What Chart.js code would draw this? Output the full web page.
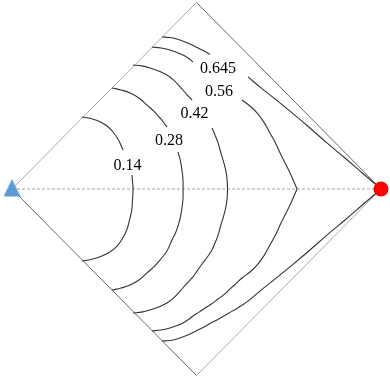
<!DOCTYPE html>
<html><head><meta charset="utf-8">
<script src="https://cdn.jsdelivr.net/npm/chart.js@4.4.1/dist/chart.umd.min.js"></script>
<style>html,body{margin:0;padding:0;background:#fff}#wrap{width:390px;height:379px;position:relative}</style>
</head><body><div id="wrap"><canvas id="c"></canvas></div>
<script>
// Diamond frame vertices (left, top, right, bottom, left)
const frameX = [-1, 0, 1, 0, -1];
const frameY = [0, 1, 0, -1, 0];
// Endpoint markers
const startPoint = [-1, 0];
const endPoint = [1, 0];

// Contour levels and label anchors
const contourLevels = ['0.14', '0.28', '0.42', '0.56', '0.645'];
const labelX = [-0.374, -0.149, -0.011, 0.122, 0.117];
const labelY = [0.131, 0.268, 0.410, 0.528, 0.649];

// Contour segments, [x, y] (split where the labels sit and at sharp corners)
const c014a = [[-0.621,0.386],[-0.572,0.378],[-0.523,0.361],[-0.485,0.338],[-0.453,0.307],[-0.423,0.263],[-0.398,0.209]];
const c014b = [[-0.350,0.075],[-0.344,0],[-0.347,-0.059],[-0.351,-0.113],[-0.363,-0.166],[-0.378,-0.220],[-0.401,-0.265],[-0.433,-0.309],[-0.474,-0.340],[-0.523,-0.363],[-0.572,-0.378],[-0.621,-0.386]];

const c028a = [[-0.458,0.542],[-0.409,0.531],[-0.360,0.515],[-0.312,0.488],[-0.268,0.450],[-0.230,0.416],[-0.198,0.381],[-0.176,0.354],[-0.160,0.332]];
const c028b = [[-0.100,0.198],[-0.087,0.150],[-0.079,0.102],[-0.073,0.048],[-0.073,0],[-0.073,-0.048],[-0.079,-0.102],[-0.087,-0.150],[-0.100,-0.198],[-0.114,-0.236],[-0.133,-0.273],[-0.160,-0.332],[-0.198,-0.381],[-0.230,-0.416],[-0.268,-0.450],[-0.312,-0.488],[-0.360,-0.515],[-0.409,-0.531],[-0.458,-0.542]];

const c042a = [[-0.344,0.665],[-0.298,0.660],[-0.252,0.649],[-0.206,0.633],[-0.160,0.611],[-0.122,0.582],[-0.089,0.547],[-0.057,0.512],[-0.024,0.477]];
const c042b = [[0.084,0.327],[0.100,0.290],[0.117,0.247],[0.130,0.201],[0.144,0.155],[0.157,0.107],[0.165,0.059],[0.168,0],[0.165,-0.059],[0.157,-0.107],[0.144,-0.155],[0.130,-0.201],[0.117,-0.247],[0.100,-0.290],[0.084,-0.327],[0.057,-0.367],[0.030,-0.402],[0.003,-0.440],[-0.024,-0.477],[-0.057,-0.512],[-0.089,-0.547],[-0.122,-0.582],[-0.160,-0.611],[-0.206,-0.633],[-0.252,-0.649],[-0.298,-0.660],[-0.344,-0.665]];

const c056a = [[-0.241,0.761],[-0.192,0.756],[-0.144,0.745],[-0.106,0.732],[-0.073,0.718],[-0.043,0.700],[-0.019,0.681]];
const c056b = [[0.247,0.477],[0.290,0.445],[0.328,0.408],[0.366,0.357],[0.398,0.300],[0.428,0.247],[0.453,0.193],[0.480,0.139],[0.507,0.086],[0.526,0.043],[0.545,0]];
const c056c = [[0.545,0],[0.526,-0.043],[0.507,-0.086],[0.480,-0.139],[0.453,-0.193],[0.428,-0.247],[0.398,-0.300],[0.366,-0.357],[0.328,-0.408],[0.290,-0.445],[0.247,-0.477],[0.214,-0.507],[0.182,-0.536],[0.149,-0.566],[0.117,-0.590],[0.081,-0.617],[0.046,-0.638],[0.014,-0.660],[-0.019,-0.681],[-0.043,-0.700],[-0.073,-0.718],[-0.106,-0.732],[-0.144,-0.745],[-0.192,-0.756],[-0.241,-0.761]];

const c0645a = [[-0.187,0.815],[-0.144,0.812],[-0.106,0.804],[-0.068,0.791],[-0.035,0.777],[-0.008,0.764],[0.019,0.751],[0.046,0.737],[0.073,0.721]];
const c0645b = [[0.279,0.601],[0.350,0.542],[0.425,0.483],[0.518,0.408],[0.615,0.327],[0.707,0.247],[0.805,0.166],[0.902,0.083],[1,0]];
const c0645c = [[1,0],[0.902,-0.083],[0.805,-0.166],[0.707,-0.247],[0.615,-0.327],[0.518,-0.408],[0.425,-0.483],[0.350,-0.542],[0.279,-0.601],[0.228,-0.635],[0.176,-0.665],[0.125,-0.694],[0.073,-0.721],[0.046,-0.737],[0.019,-0.751],[-0.008,-0.764],[-0.035,-0.777],[-0.068,-0.791],[-0.106,-0.804],[-0.144,-0.812],[-0.187,-0.815]];

const contourSegments = [c014a, c014b, c028a, c028b, c042a, c042b, c056a, c056b, c056c, c0645a, c0645b, c0645c];

function triangleCanvas(color){
  const cv = document.createElement('canvas');
  cv.width = 17; cv.height = 20;
  const g = cv.getContext('2d');
  g.fillStyle = color;
  g.beginPath(); g.moveTo(8.5, 0); g.lineTo(17, 17.5); g.lineTo(0, 17.5); g.closePath(); g.fill();
  return cv;
}

const toPts = seg => seg.map(([x, y]) => ({x, y}));
const datasets = [];
// markers first (drawn on top)
datasets.push({data: [{x: startPoint[0], y: startPoint[1]}], pointStyle: triangleCanvas('#5B9BD5'), pointRadius: 9, showLine: false});
datasets.push({data: [{x: endPoint[0], y: endPoint[1]}], pointStyle: 'circle', pointRadius: 7.5, backgroundColor: '#ff0000', borderColor: '#ff0000', borderWidth: 0, showLine: false});
contourSegments.forEach(seg => datasets.push({data: toPts(seg), showLine: true, borderColor: '#333333', borderWidth: 1.1, pointRadius: 0, tension: 0.4, fill: false}));
// dotted centre line
datasets.push({data: [{x: startPoint[0], y: 0}, {x: endPoint[0], y: 0}], showLine: true, borderColor: '#a0a0a0', borderWidth: 1, borderDash: [3, 2], pointRadius: 0});
// frame edges
for (let i = 0; i < frameX.length - 1; i++) {
  datasets.push({data: [{x: frameX[i], y: frameY[i]}, {x: frameX[i+1], y: frameY[i+1]}], showLine: true,
    borderColor: i % 2 === 0 ? '#aaaaaa' : '#666666', borderWidth: 1, pointRadius: 0});
}

const labelPlugin = {
  id: 'contourLabels',
  afterDatasetsDraw(chart) {
    const {ctx, scales} = chart;
    ctx.save();
    ctx.font = '16px "Liberation Serif", "Times New Roman", serif';
    ctx.fillStyle = '#000';
    ctx.textAlign = 'center';
    ctx.textBaseline = 'alphabetic';
    contourLevels.forEach((t, i) => {
      ctx.fillText(t, scales.x.getPixelForValue(labelX[i]), scales.y.getPixelForValue(labelY[i]) + 5.5);
    });
    ctx.restore();
  }
};

new Chart(document.getElementById('c'), {
  type: 'scatter',
  data: {datasets},
  options: {
    responsive: true, maintainAspectRatio: false, animation: false, events: [],
    layout: {padding: 0, autoPadding: false},
    plugins: {legend: {display: false}, tooltip: {enabled: false}},
    scales: {
      x: {type: 'linear', display: false, min: -196.5/184.5, max: 193.5/184.5},
      y: {type: 'linear', display: false, min: -190/186.5, max: 189/186.5}
    }
  },
  plugins: [labelPlugin]
});
</script>
</body></html>
